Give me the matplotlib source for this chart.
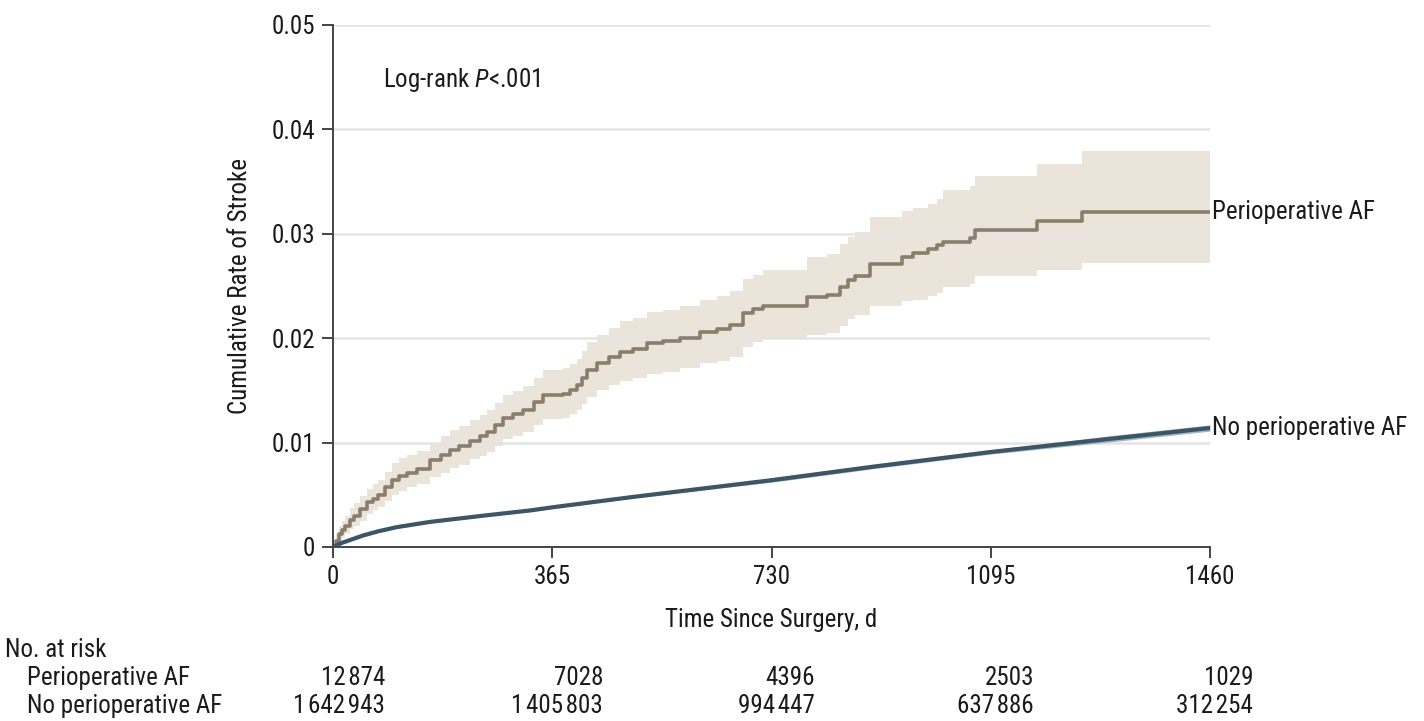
import matplotlib
matplotlib.use("Agg")
import matplotlib.pyplot as plt
from matplotlib import font_manager

# ---------------------------------------------------------------------------
# Kaplan-Meier style cumulative stroke incidence, with 95% CI bands
# ---------------------------------------------------------------------------
periop_days = [0, 5, 10, 15, 20, 28, 35, 45, 57, 66, 75, 86, 98, 110, 123,
               140, 161, 180, 195, 210, 228, 245, 256, 270, 283, 300, 316,
               335, 350, 383, 395, 406, 415, 423, 439, 460, 478, 500, 523,
               550, 578, 611, 640, 661, 683, 700, 716, 789, 822, 844, 857,
               869, 894, 947, 966, 991, 1005, 1016, 1060, 1069, 1172, 1247,
               1460]
periop_est = [0, .0006, .0012, .0016, .0020, .0026, .0030, .0036, .0043, .0046,
              .0050, .0057, .0064, .0068, .0071, .0075, .0083, .0088, .0093,
              .0097, .0102, .0106, .0110, .0117, .0124, .0127, .0131, .0139,
              .0146, .0147, .0150, .0155, .0162, .0170, .0176, .0182, .0187,
              .0190, .0195, .0197, .0200, .0206, .0209, .0213, .0224, .0228,
              .0231, .0239, .0241, .0249, .0256, .0260, .0271, .0278, .0282,
              .0285, .0289, .0292, .0296, .0304, .0312, .0321, .0321]
periop_lo = [0, .0002, .0006, .0009, .0012, .0017, .0020, .0025, .0032, .0035,
             .0038, .0044, .0050, .0054, .0057, .0060, .0067, .0071, .0076,
             .0079, .0084, .0087, .0091, .0097, .0103, .0106, .0110, .0117,
             .0123, .0124, .0127, .0131, .0137, .0144, .0150, .0155, .0159,
             .0162, .0166, .0168, .0171, .0176, .0178, .0182, .0192, .0196,
             .0199, .0203, .0205, .0212, .0218, .0222, .0231, .0236, .0237,
             .0240, .0243, .0249, .0252, .0260, .0265, .0272, .0272]
periop_hi = [0, .0012, .0020, .0025, .0030, .0037, .0042, .0049, .0056, .0060,
             .0064, .0072, .0080, .0085, .0088, .0092, .0100, .0106, .0112,
             .0116, .0122, .0126, .0131, .0138, .0146, .0149, .0154, .0162,
             .0170, .0171, .0175, .0180, .0188, .0196, .0203, .0210, .0216,
             .0219, .0225, .0227, .0231, .0237, .0240, .0245, .0257, .0261,
             .0265, .0278, .0281, .0290, .0297, .0302, .0316, .0322, .0325,
             .0329, .0333, .0342, .0346, .0355, .0367, .0379, .0379]

noaf_days = [0, 15, 30, 50, 75, 106, 161, 250, 328, 365, 500, 730, 900, 1095,
             1300, 1460]
noaf_est = [0, .0004, .0007, .0011, .0015, .0019, .0024, .0030, .0035, .0038,
            .0048, .0064, .0077, .0091, .0104, .0114]
noaf_lo = [0, .0003, .0006, .0010, .0014, .0018, .0023, .0029, .0034, .0037,
           .0047, .0062, .0075, .0089, .0101, .0111]
noaf_hi = [0, .0005, .0008, .0012, .0016, .0020, .0025, .0031, .0036, .0039,
           .0049, .0066, .0079, .0093, .0107, .0117]

x_ticks = [0, 365, 730, 1095, 1460]
y_ticks = [0, 0.01, 0.02, 0.03, 0.04, 0.05]
y_ticklabels = ["0", "0.01", "0.02", "0.03", "0.04", "0.05"]

risk_groups = ["Perioperative AF", "No perioperative AF"]
risk_periop = ["12\u200a874", "7028", "4396", "2503", "1029"]
risk_noaf = ["1\u200a642\u200a943", "1\u200a405\u200a803", "994\u200a447",
             "637\u200a886", "312\u200a254"]

# ---------------------------------------------------------------------------
# Style: a narrow sans face if one is available
# ---------------------------------------------------------------------------
names = {f.name for f in font_manager.fontManager.ttflist}
narrow = [n for n in ("Liberation Sans Narrow", "Roboto Condensed",
                      "DejaVu Sans Condensed", "Open Sans Condensed") if n in names]
FONT = narrow[0] if narrow else "Roboto"
plt.rcParams["font.family"] = [FONT, "DejaVu Sans"]
plt.rcParams["mathtext.fontset"] = "custom"
plt.rcParams["mathtext.rm"] = FONT
plt.rcParams["mathtext.it"] = FONT + ":italic"

C_PERIOP = "#8b7e6d"
C_PERIOP_BAND = "#eae4da"
C_NOAF = "#3e5566"
C_NOAF_BAND = "#9dbcc2"
C_AXIS = "#444444"
C_GRID = "#e4e4e4"
C_TEXT = "#1a1a1a"
FS = 18

W, H = 1424, 721
fig = plt.figure(figsize=(W / 100, H / 100), dpi=100, facecolor="white")
ax = fig.add_axes([333 / W, 1 - 547 / H, (1210 - 333) / W, (547 - 25) / H])

ax.fill_between(periop_days, periop_lo, periop_hi, step="post",
                color=C_PERIOP_BAND, linewidth=0, zorder=1)
ax.fill_between(noaf_days, noaf_lo, noaf_hi, color=C_NOAF_BAND,
                linewidth=0, zorder=3)
for yv in y_ticks[1:]:
    ax.axhline(yv, color=C_GRID, linewidth=1.8, zorder=2)
ax.step(periop_days, periop_est, where="post", color=C_PERIOP,
        linewidth=2.6, zorder=4)
ax.plot(noaf_days, noaf_est, color=C_NOAF, linewidth=3.0, zorder=4,
        solid_capstyle="butt")

ax.set_xlim(0, 1460)
ax.set_ylim(0, 0.05)
ax.set_xticks(x_ticks)
ax.set_xticklabels([str(t) for t in x_ticks])
ax.set_yticks(y_ticks)
ax.set_yticklabels(y_ticklabels)
ax.tick_params(axis="both", direction="out", length=8, width=1.4,
               color=C_AXIS, labelsize=FS, labelcolor=C_TEXT, pad=5)
for side in ("top", "right"):
    ax.spines[side].set_visible(False)
for side in ("left", "bottom"):
    ax.spines[side].set_color(C_AXIS)
    ax.spines[side].set_linewidth(1.4)

ax.set_xlabel("Time Since Surgery, d", fontsize=FS, color=C_TEXT, labelpad=14)
ax.set_ylabel("Cumulative Rate of Stroke", fontsize=FS, color=C_TEXT,
              labelpad=14)

ax.text(383 / W, 1 - 80 / H, "Log-rank $\\it{P}$<.001", transform=fig.transFigure,
        fontsize=FS, color=C_TEXT, ha="left", va="center")

# curve end labels
ax.text(1464, periop_est[-1], risk_groups[0], fontsize=FS, color=C_TEXT,
        ha="left", va="center", clip_on=False)
ax.text(1464, noaf_est[-1], risk_groups[1], fontsize=FS, color=C_TEXT,
        ha="left", va="center", clip_on=False)

# number-at-risk table
col_right = [385, 603, 815, 1034, 1253]
fig.text(5 / W, 1 - 650 / H, "No. at risk", fontsize=FS, color=C_TEXT,
         ha="left", va="center")
for row, (label, vals) in enumerate(zip(risk_groups, [risk_periop, risk_noaf])):
    yy = 1 - (678 + 28 * row) / H
    fig.text(27 / W, yy, label, fontsize=FS, color=C_TEXT, ha="left", va="center")
    for xr, v in zip(col_right, vals):
        fig.text(xr / W, yy, v, fontsize=FS, color=C_TEXT, ha="right",
                 va="center")

fig.savefig("out.png", dpi=100, facecolor="white")
